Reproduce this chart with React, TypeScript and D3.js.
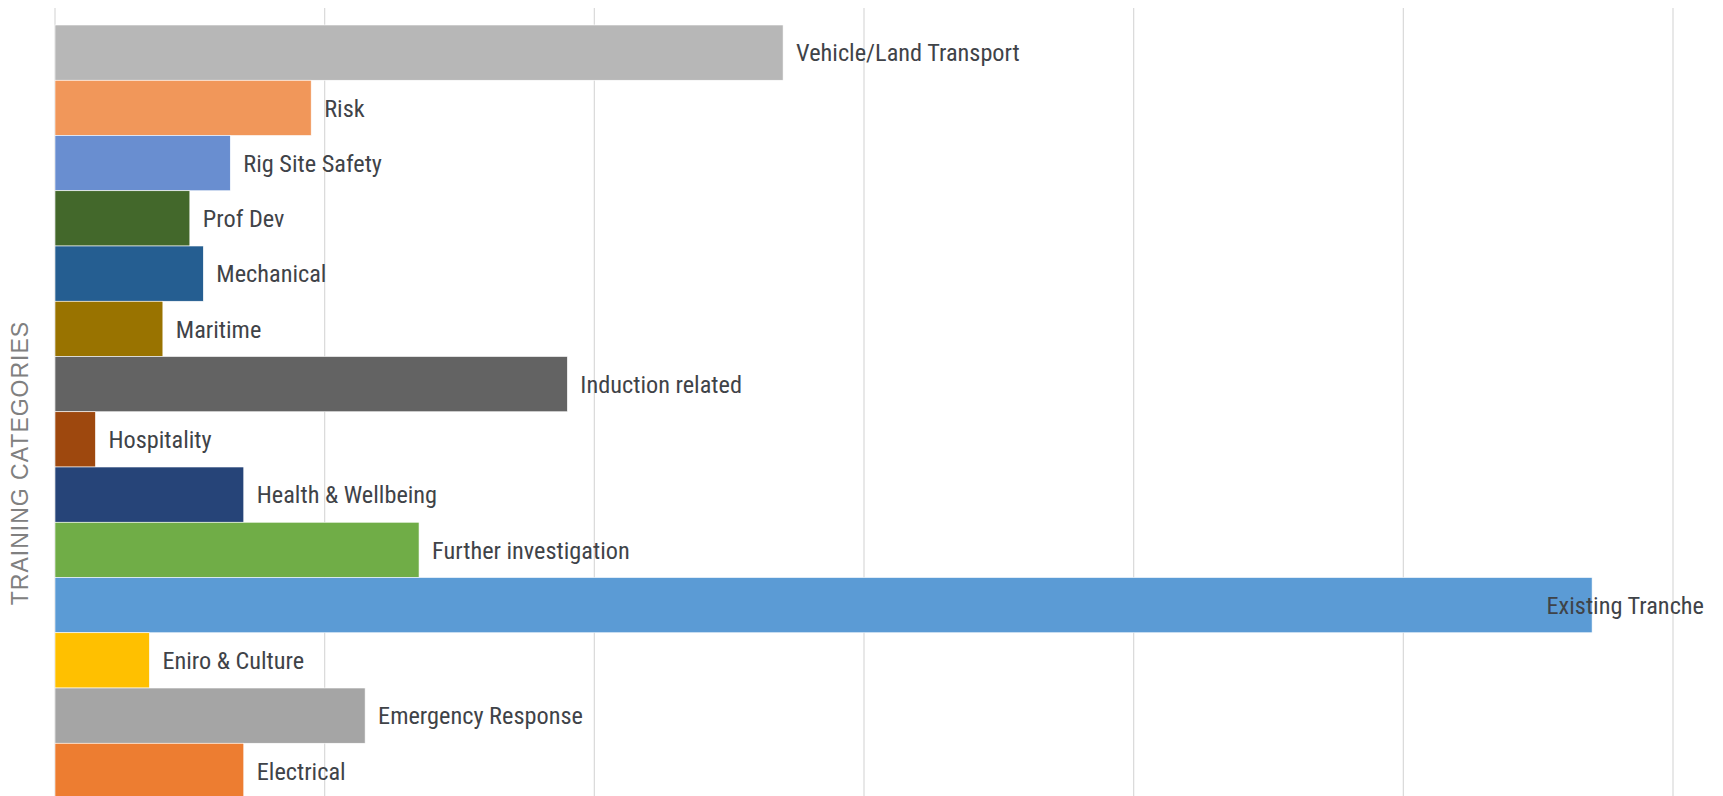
import React from 'react';
import * as d3 from 'd3';

// categories top to bottom, values (20 per line)
const categories = [
  'Vehicle/Land Transport',
  'Risk',
  'Rig Site Safety',
  'Prof Dev',
  'Mechanical',
  'Maritime',
  'Induction related',
  'Hospitality',
  'Health & Wellbeing',
  'Further investigation',
  'Existing Tranche',
  'Eniro & Culture',
  'Emergency Response',
  'Electrical',
];
const values = [54, 19, 13, 10, 11, 8, 38, 3, 14, 27, 114, 7, 23, 14];
const colors = [
  '#b7b7b7', '#f1975a', '#698ed0', '#43682b', '#255e91', '#997300', '#636363',
  '#9e480e', '#264478', '#70ad47', '#5b9bd5', '#ffc000', '#a5a5a5', '#ed7d31',
];
const ticks = [0, 20, 40, 60, 80, 100, 120];
const axisTitle = 'TRAINING CATEGORIES';

const W = 1723;
const H = 796;

export default function App() {
  const x = d3.scaleLinear().domain([0, 120]).range([55, 1673]);
  const y = d3.scaleBand<string>().domain(categories).range([25, 25 + 14 * 55.25]).padding(0);
  const labelFont = '"Liberation Sans Narrow", "Arial Narrow", "Roboto Condensed", sans-serif';

  return (
    <svg width={W} height={H} style={{ position: 'absolute', left: 0, top: 0, background: '#fff' }}>
      {ticks.map(t => (
        <line key={t} x1={x(t)} x2={x(t)} y1={8} y2={H} stroke="#d9d9d9" strokeWidth={1.2} />
      ))}
      {categories.map((c, i) => (
        <rect
          key={c}
          x={x(0)}
          y={y(c)}
          width={x(values[i]) - x(0)}
          height={y.bandwidth()}
          fill={colors[i]}
          stroke="#fff"
          strokeWidth={0.6}
        />
      ))}
      {categories.map((c, i) => {
        const inside = values[i] > 100;
        return (
          <text
            key={c}
            x={inside ? 1704 : x(values[i]) + 13}
            y={(y(c) as number) + y.bandwidth() / 2}
            dy="0.36em"
            textAnchor={inside ? 'end' : 'start'}
            fontFamily={labelFont}
            fontSize={24.3}
            fill="#3f4348"
          >
            {c}
          </text>
        );
      })}
      <text
        transform={`translate(28,463) rotate(-90)`}
        textAnchor="middle"
        fontFamily='"Liberation Sans", Arial, sans-serif'
        fontSize={23}
        letterSpacing={1}
        fill="#808080"
      >
        {axisTitle}
      </text>
    </svg>
  );
}
